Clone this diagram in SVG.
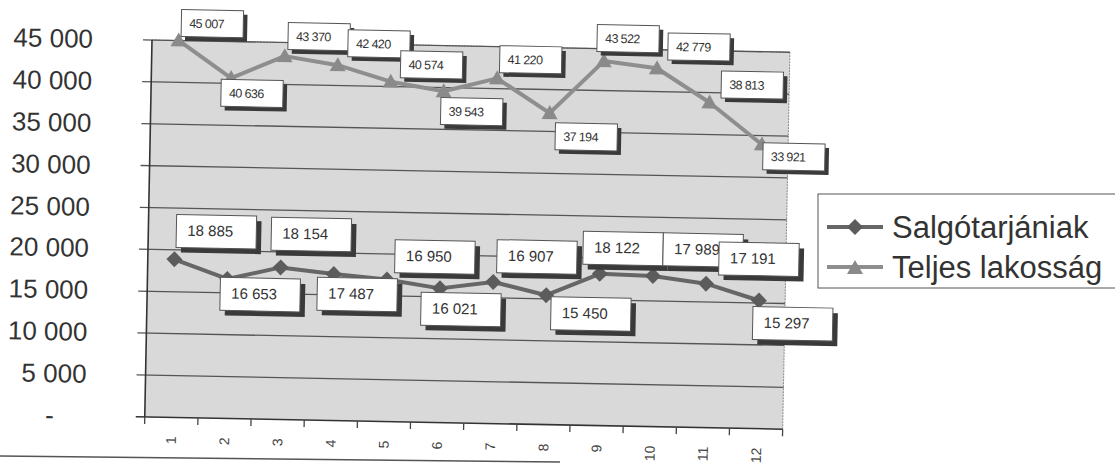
<svg xmlns="http://www.w3.org/2000/svg" xmlns:xlink="http://www.w3.org/1999/xlink" width="1115" height="468" viewBox="0 0 1115 468">
<style>
.ax{font-family:"Liberation Sans",Arial,sans-serif;font-size:26px;fill:#333;text-anchor:end}
.xt{font-family:"Liberation Sans",Arial,sans-serif;font-size:14px;fill:#444;text-anchor:end}
.grid{stroke:#555;stroke-width:1.3}
.tick{stroke:#444;stroke-width:1.3}
.lt .bx{fill:#fff;stroke:#555;stroke-width:1}
.lt .sh{fill:#3a3a3a}
.lt text{font-family:"Liberation Sans",Arial,sans-serif;font-size:12.5px;letter-spacing:-0.6px;fill:#333}
.ls .bx{fill:#fff;stroke:#555;stroke-width:1}
.ls .sh{fill:#3a3a3a}
.ls text{font-family:"Liberation Sans",Arial,sans-serif;font-size:15px;fill:#333}
.leg{font-family:"Liberation Sans",Arial,sans-serif;font-size:31px;fill:#333}
</style>
<defs>
<polygon id="tri" points="-8,6 8,6 0,-8" fill="#8a8a8a"/>
<polygon id="dia" points="0,-8 8,0 0,8 -8,0" fill="#5c5c5c"/>
</defs>
<rect width="1115" height="468" fill="#fff"/>
<g transform="rotate(1.1 152 40)">
<g id="plot">
<rect x="152" y="40" width="638" height="377" fill="#d9d9d9"/>
<line x1="790" y1="40" x2="790" y2="417" stroke="#888" stroke-width="1" stroke-dasharray="2,1"/>
<line x1="152" y1="40" x2="790" y2="40" stroke="#888" stroke-width="1" stroke-dasharray="2,1"/>
<g class="grid">
<line x1="143" y1="375.1" x2="790" y2="375.1"/>
<line x1="143" y1="333.2" x2="790" y2="333.2"/>
<line x1="143" y1="291.3" x2="790" y2="291.3"/>
<line x1="143" y1="249.4" x2="790" y2="249.4"/>
<line x1="143" y1="207.6" x2="790" y2="207.6"/>
<line x1="143" y1="165.7" x2="790" y2="165.7"/>
<line x1="143" y1="123.8" x2="790" y2="123.8"/>
<line x1="143" y1="81.9" x2="790" y2="81.9"/>
<line x1="143" y1="40" x2="790" y2="40"/>
</g>
<line x1="143" y1="417" x2="790" y2="417" stroke="#333" stroke-width="1.6"/>
<line x1="152" y1="40" x2="152" y2="417" stroke="#333" stroke-width="1.6"/>
<g class="tick">
<line x1="152" y1="417" x2="152" y2="424"/><line x1="205.2" y1="417" x2="205.2" y2="424"/>
<line x1="258.3" y1="417" x2="258.3" y2="424"/><line x1="311.5" y1="417" x2="311.5" y2="424"/>
<line x1="364.7" y1="417" x2="364.7" y2="424"/><line x1="417.8" y1="417" x2="417.8" y2="424"/>
<line x1="471" y1="417" x2="471" y2="424"/><line x1="524.2" y1="417" x2="524.2" y2="424"/>
<line x1="577.3" y1="417" x2="577.3" y2="424"/><line x1="630.5" y1="417" x2="630.5" y2="424"/>
<line x1="683.7" y1="417" x2="683.7" y2="424"/><line x1="736.8" y1="417" x2="736.8" y2="424"/>
<line x1="790" y1="417" x2="790" y2="424"/>
</g>
</g>
<g id="yaxis-labels">
<text class="ax" x="93" y="49">45 000</text>
<text class="ax" x="93" y="91">40 000</text>
<text class="ax" x="93" y="133">35 000</text>
<text class="ax" x="93" y="175">30 000</text>
<text class="ax" x="93" y="217">25 000</text>
<text class="ax" x="93" y="258">20 000</text>
<text class="ax" x="93" y="300">15 000</text>
<text class="ax" x="93" y="342">10 000</text>
<text class="ax" x="93" y="384">5 000</text>
<text class="ax" x="61" y="426">-</text>
</g>
<g id="xaxis-labels">
<text class="xt" transform="translate(183.6 436) rotate(-90)">1</text>
<text class="xt" transform="translate(236.8 436) rotate(-90)">2</text>
<text class="xt" transform="translate(290 436) rotate(-90)">3</text>
<text class="xt" transform="translate(343.2 436) rotate(-90)">4</text>
<text class="xt" transform="translate(396.4 436) rotate(-90)">5</text>
<text class="xt" transform="translate(449.6 436) rotate(-90)">6</text>
<text class="xt" transform="translate(502.8 436) rotate(-90)">7</text>
<text class="xt" transform="translate(556 436) rotate(-90)">8</text>
<text class="xt" transform="translate(609.2 436) rotate(-90)">9</text>
<text class="xt" transform="translate(662.4 436) rotate(-90)">10</text>
<text class="xt" transform="translate(715.6 436) rotate(-90)">11</text>
<text class="xt" transform="translate(768.8 436) rotate(-90)">12</text>
</g>
<g id="connectors" fill="none" stroke-linejoin="round" stroke-linecap="round">
<polyline id="teljes-line" stroke="#8e8e8e" stroke-width="4" points="178.6,39.9 231.8,76.5 285,53.6 338.2,61.6 391.4,77.1 444.6,85.7 497.8,71.7 551,105.4 604.2,52.4 657.4,58.6 710.6,91.8 763.8,132.8"/>
<polyline id="salgo-line" stroke="#666" stroke-width="4" points="178.6,258.8 231.8,277.5 285,264.9 338.2,270.5 391.4,275 444.6,282.8 497.8,275.4 551,287.6 604.2,265.2 657.4,266.3 710.6,273 763.8,288.8"/>
</g>
<g id="markers">
<use xlink:href="#tri" x="178.6" y="39.9"/><use xlink:href="#tri" x="231.8" y="76.5"/>
<use xlink:href="#tri" x="285" y="53.6"/><use xlink:href="#tri" x="338.2" y="61.6"/>
<use xlink:href="#tri" x="391.4" y="77.1"/><use xlink:href="#tri" x="444.6" y="85.7"/>
<use xlink:href="#tri" x="497.8" y="71.7"/><use xlink:href="#tri" x="551" y="105.4"/>
<use xlink:href="#tri" x="604.2" y="52.4"/><use xlink:href="#tri" x="657.4" y="58.6"/>
<use xlink:href="#tri" x="710.6" y="91.8"/><use xlink:href="#tri" x="763.8" y="132.8"/>
<use xlink:href="#dia" x="178.6" y="258.8"/><use xlink:href="#dia" x="231.8" y="277.5"/>
<use xlink:href="#dia" x="285" y="264.9"/><use xlink:href="#dia" x="338.2" y="270.5"/>
<use xlink:href="#dia" x="391.4" y="275"/><use xlink:href="#dia" x="444.6" y="282.8"/>
<use xlink:href="#dia" x="497.8" y="275.4"/><use xlink:href="#dia" x="551" y="287.6"/>
<use xlink:href="#dia" x="604.2" y="265.2"/><use xlink:href="#dia" x="657.4" y="266.3"/>
<use xlink:href="#dia" x="710.6" y="273"/><use xlink:href="#dia" x="763.8" y="288.8"/>
</g>
<g id="teljes-labels" class="lt">
<g id="t1" transform="translate(181 9)"><rect class="sh" x="4" y="4" width="62" height="27"/><rect class="bx" width="62" height="27"/><text x="8" y="18">45 007</text></g>
<g id="t2" transform="translate(222 78)"><rect class="sh" x="4" y="4" width="62" height="27"/><rect class="bx" width="62" height="27"/><text x="8" y="18">40 636</text></g>
<g id="t3" transform="translate(288 20)"><rect class="sh" x="4" y="4" width="62" height="27"/><rect class="bx" width="62" height="27"/><text x="8" y="18">43 370</text></g>
<g id="t4" transform="translate(348 26)"><rect class="sh" x="4" y="4" width="62" height="27"/><rect class="bx" width="62" height="27"/><text x="8" y="18">42 420</text></g>
<g id="t5" transform="translate(401 46)"><rect class="sh" x="4" y="4" width="62" height="27"/><rect class="bx" width="62" height="27"/><text x="8" y="18">40 574</text></g>
<g id="t6" transform="translate(442 92)"><rect class="sh" x="4" y="4" width="62" height="27"/><rect class="bx" width="62" height="27"/><text x="8" y="18">39 543</text></g>
<g id="t7" transform="translate(500 39)"><rect class="sh" x="4" y="4" width="62" height="27"/><rect class="bx" width="62" height="27"/><text x="8" y="18">41 220</text></g>
<g id="t8" transform="translate(557 115)"><rect class="sh" x="4" y="4" width="62" height="27"/><rect class="bx" width="62" height="27"/><text x="8" y="18">37 194</text></g>
<g id="t9" transform="translate(597 16)"><rect class="sh" x="4" y="4" width="62" height="27"/><rect class="bx" width="62" height="27"/><text x="8" y="18">43 522</text></g>
<g id="t10" transform="translate(668 23)"><rect class="sh" x="4" y="4" width="62" height="27"/><rect class="bx" width="62" height="27"/><text x="8" y="18">42 779</text></g>
<g id="t11" transform="translate(722 60)"><rect class="sh" x="4" y="4" width="62" height="27"/><rect class="bx" width="62" height="27"/><text x="8" y="18">38 813</text></g>
<g id="t12" transform="translate(765 131)"><rect class="sh" x="4" y="4" width="62" height="27"/><rect class="bx" width="62" height="27"/><text x="8" y="18">33 921</text></g>
</g>
<g id="salgo-labels" class="ls">
<g id="s1" transform="translate(180 214)"><rect class="sh" x="5" y="5" width="80" height="33"/><rect class="bx" width="80" height="33"/><text x="11" y="21">18 885</text></g>
<g id="s3" transform="translate(275 215)"><rect class="sh" x="5" y="5" width="80" height="33"/><rect class="bx" width="80" height="33"/><text x="11" y="21">18 154</text></g>
<g id="s2" transform="translate(225 276)"><rect class="sh" x="5" y="5" width="80" height="33"/><rect class="bx" width="80" height="33"/><text x="11" y="21">16 653</text></g>
<g id="s4" transform="translate(322 274)"><rect class="sh" x="5" y="5" width="80" height="33"/><rect class="bx" width="80" height="33"/><text x="11" y="21">17 487</text></g>
<g id="s5" transform="translate(399 235)"><rect class="sh" x="5" y="5" width="80" height="33"/><rect class="bx" width="80" height="33"/><text x="11" y="21">16 950</text></g>
<g id="s6" transform="translate(426 287)"><rect class="sh" x="5" y="5" width="80" height="33"/><rect class="bx" width="80" height="33"/><text x="11" y="21">16 021</text></g>
<g id="s7" transform="translate(501 233)"><rect class="sh" x="5" y="5" width="80" height="33"/><rect class="bx" width="80" height="33"/><text x="11" y="21">16 907</text></g>
<g id="s8" transform="translate(556 289)"><rect class="sh" x="5" y="5" width="80" height="33"/><rect class="bx" width="80" height="33"/><text x="11" y="21">15 450</text></g>
<g id="s9" transform="translate(587 223)"><rect class="sh" x="5" y="5" width="80" height="33"/><rect class="bx" width="80" height="33"/><text x="11" y="21">18 122</text></g>
<g id="s10" transform="translate(667 223)"><rect class="sh" x="5" y="5" width="80" height="33"/><rect class="bx" width="80" height="33"/><text x="11" y="21">17 989</text></g>
<g id="s11" transform="translate(723 231)"><rect class="sh" x="5" y="5" width="80" height="33"/><rect class="bx" width="80" height="33"/><text x="11" y="21">17 191</text></g>
<g id="s12" transform="translate(758 295)"><rect class="sh" x="5" y="5" width="80" height="33"/><rect class="bx" width="80" height="33"/><text x="11" y="21">15 297</text></g>
</g>
</g>
<g id="legend">
<rect x="818" y="194" width="310" height="94" fill="#fff" stroke="#555" stroke-width="1"/>
<line x1="827" y1="227" x2="883" y2="227" stroke="#666" stroke-width="4"/>
<use xlink:href="#dia" x="855" y="227"/>
<text class="leg" x="892" y="238">Salgótarjániak</text>
<line x1="827" y1="267" x2="883" y2="267" stroke="#8e8e8e" stroke-width="4"/>
<use xlink:href="#tri" x="855" y="268"/>
<text class="leg" x="892" y="278">Teljes lakosság</text>
</g>
<line x1="0" y1="456" x2="560" y2="462" stroke="#555" stroke-width="1.5"/>
</svg>
